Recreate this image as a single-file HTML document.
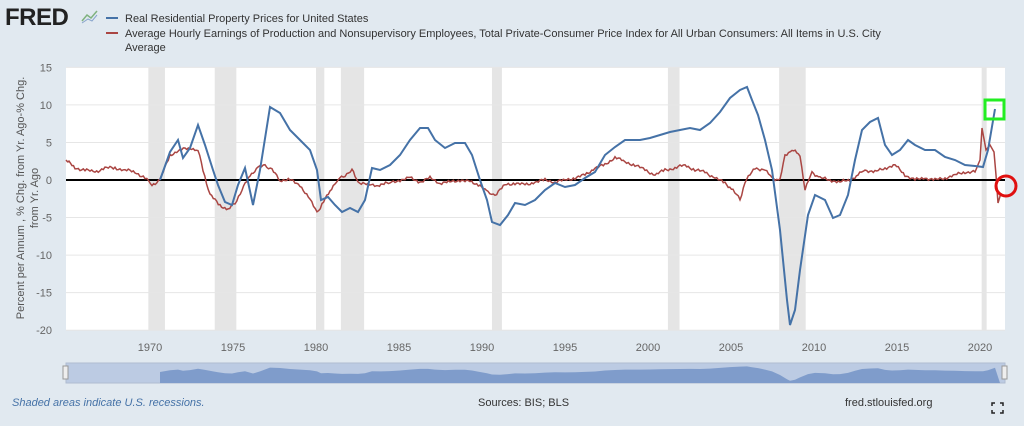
<!DOCTYPE html>
<html><head><meta charset="utf-8"><style>
body{margin:0;width:1024px;height:426px;background:#e1e9f0;font-family:"Liberation Sans",sans-serif;overflow:hidden;position:relative}
</style></head><body>
<svg width="1024" height="426" style="position:absolute;left:0;top:0" id="s">
<text x="5" y="25" font-family="Liberation Sans" font-weight="bold" font-size="24" fill="#222" letter-spacing="-0.5">FRED</text>
<polyline points="82,21 87,15 91,18 97,11" fill="none" stroke="#7fb27f" stroke-width="1.5"/>
<polyline points="82,23 88,19 92,21 97,15" fill="none" stroke="#88a4cc" stroke-width="1"/>
<line x1="106" y1="18" x2="118" y2="18" stroke="#4572a7" stroke-width="2"/>
<line x1="106" y1="33" x2="118" y2="33" stroke="#aa4643" stroke-width="2"/>
<text x="125" y="22" font-size="11" fill="#333">Real Residential Property Prices for United States</text>
<text x="125" y="37" font-size="11" fill="#333">Average Hourly Earnings of Production and Nonsupervisory Employees, Total Private-Consumer Price Index for All Urban Consumers: All Items in U.S. City</text>
<text x="125" y="51" font-size="11" fill="#333">Average</text>
<rect x="66" y="67" width="939" height="263" fill="#fff"/>
<g id="rec" fill="#e5e5e5"></g>
<g id="grid" stroke="#e6e6e6" stroke-width="1"></g>
<line x1="66" y1="180" x2="1005" y2="180" stroke="#000" stroke-width="2"/>
<g id="yl" font-size="11" fill="#666" text-anchor="end"></g>
<g id="xl" font-size="11" fill="#666" text-anchor="middle"></g>
<path id="red" fill="none" stroke="#aa4643" stroke-width="1.5"/>
<path id="blue" fill="none" stroke="#4572a7" stroke-width="2"/>
<text transform="translate(24,198) rotate(-90)" font-size="11" fill="#555" text-anchor="middle">Percent per Annum , % Chg. from Yr. Ago-% Chg.</text>
<text transform="translate(38,198) rotate(-90)" font-size="11" fill="#555" text-anchor="middle">from Yr. Ago</text>
<rect x="66" y="363" width="939" height="20" fill="#bccbe3" stroke="#b0bcd0"/>
<path id="nav" fill="#7f9ccb"/>
<rect x="63" y="366" width="5" height="13" fill="#eee" stroke="#999"/>
<rect x="1002" y="366" width="5" height="13" fill="#eee" stroke="#999"/>
<text x="12" y="406" font-size="11" fill="#4572a7" font-style="italic">Shaded areas indicate U.S. recessions.</text>
<text x="478" y="406" font-size="11" fill="#333">Sources: BIS; BLS</text>
<text x="845" y="406" font-size="11" fill="#333">fred.stlouisfed.org</text>
<g stroke="#222" stroke-width="1.5" fill="none"><path d="M992,406v-3h3M1000,403h3v3M992,410v3h3M1000,413h3v-3"/></g>
<rect x="985" y="100" width="19" height="19" fill="none" stroke="#22ee22" stroke-width="3"/>
<circle cx="1006" cy="186" r="10" fill="none" stroke="#e01010" stroke-width="3"/>
</svg>
<script>
const X=y=>150+(y-1970)*16.6, Y=v=>180-v*7.51;
const ns="http://www.w3.org/2000/svg";
function el(p,t,a,txt){const e=document.createElementNS(ns,t);for(const k in a)e.setAttribute(k,a[k]);if(txt)e.textContent=txt;document.getElementById(p).appendChild(e);}
[[1969.9,1970.9],[1973.9,1975.2],[1980.0,1980.5],[1981.5,1982.9],[1990.6,1991.2],[2001.2,2001.9],[2007.9,2009.5],[2020.1,2020.4]].forEach(r=>el("rec","rect",{x:X(r[0]),y:67,width:X(r[1])-X(r[0]),height:263}));
for(let v=15;v>=-20;v-=5){el("grid","line",{x1:66,x2:1005,y1:Y(v),y2:Y(v)});el("yl","text",{x:52,y:Y(v)+4},String(v));}
for(let y=1970;y<=2020;y+=5)el("xl","text",{x:X(y),y:351},String(y));
const B=[[160,180],[170,152],[178,140],[183,158],[190,148],[198,125],[205,145],[213,170],[218,185],[225,202],[232,205],[238,185],[245,168],[253,205],[260,170],[270,107],[280,113],[290,130],[300,140],[310,150],[317,170],[321,200],[328,197],[335,205],[342,212],[350,208],[358,212],[365,200],[372,168],[380,170],[390,165],[400,155],[410,140],[420,128],[428,128],[435,140],[445,148],[455,143],[465,143],[472,155],[480,180],[487,200],[492,222],[500,225],[508,215],[515,203],[525,205],[535,200],[545,190],[555,183],[565,187],[575,185],[585,178],[595,172],[605,155],[615,147],[625,140],[640,140],[650,138],[660,135],[670,132],[680,130],[690,128],[700,130],[710,123],[720,112],[730,98],[740,90],[747,87],[752,100],[758,115],[765,140],[772,170],[780,230],[787,300],[790,325],[795,310],[800,270],[808,215],[815,195],[825,200],[833,218],[840,215],[848,195],[855,160],[862,130],[870,122],[878,118],[885,145],[892,155],[900,150],[908,140],[915,145],[925,150],[935,150],[945,157],[955,160],[965,165],[975,166],[983,167],[988,150],[995,109]];
document.getElementById("blue").setAttribute("d","M"+B.map(p=>p.join(",")).join("L"));
const R=[[66,160],[75,168],[85,170],[95,172],[105,168],[115,168],[125,170],[135,172],[145,178],[152,185],[160,180],[170,155],[180,150],[190,148],[198,150],[203,170],[210,195],[220,205],[228,210],[235,203],[242,190],[250,175],[258,168],[265,165],[272,170],[280,180],[290,180],[300,185],[310,200],[317,212],[322,205],[330,190],[338,180],[345,175],[352,170],[358,182],[368,185],[378,185],[390,183],[400,180],[410,178],[420,182],[430,178],[440,183],[450,182],[460,180],[470,182],[480,185],[488,193],[495,195],[505,185],[515,183],[525,185],[535,182],[545,180],[555,182],[565,180],[575,178],[585,175],[595,168],[605,165],[615,157],[625,162],[635,165],[645,170],[655,175],[665,170],[675,168],[685,165],[695,170],[705,172],[715,178],[725,183],[733,190],[740,200],[745,182],[755,168],[765,170],[772,178],[780,180],[785,155],[792,150],[800,155],[805,190],[812,172],[820,178],[830,180],[840,182],[850,180],[858,175],[865,170],[875,172],[885,168],[895,165],[905,175],[915,180],[925,178],[935,180],[945,178],[955,175],[965,172],[975,172],[980,160],[982,128],[986,150],[990,145],[994,152],[996,175],[998,203],[1001,193]];
let d="";
for(let i=0;i<R.length-1;i++){const [x0,y0]=R[i],[x1,y1]=R[i+1];const n=Math.max(1,Math.round((x1-x0)/1.6));for(let k=0;k<n;k++){const t=k/n;let x=x0+(x1-x0)*t,y=y0+(y1-y0)*t;if(x<975)y+=Math.sin(i*7.3+k*2.1)*1.0+Math.sin(i*3.1+k*5.7)*0.8;d+=(d?"L":"M")+x.toFixed(1)+","+y.toFixed(1);}}
d+="L1001,193";
document.getElementById("red").setAttribute("d",d);
let nd="M160,383";B.forEach(p=>{const v=(180-p[1])/7.51;nd+="L"+p[0]+","+Math.min(383,372+(-v)*0.45).toFixed(1);});
nd+="L1000,383Z";document.getElementById("nav").setAttribute("d",nd);
</script>
</body></html>
